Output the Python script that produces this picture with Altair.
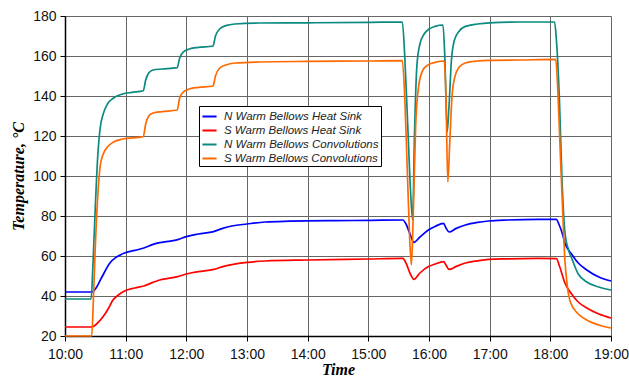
import altair as alt
import pandas as pd

series_names = ["N Warm Bellows Heat Sink", "S Warm Bellows Heat Sink",
                "N Warm Bellows Convolutions", "S Warm Bellows Convolutions"]
series_colors = ["#0000FF", "#FF0000", "#0A8A80", "#FF6A00"]

# time in hours (decimal) and temperature in degC
n_sink_t = [10.0, 10.45, 10.5, 10.6, 10.74, 10.85, 10.98, 11.15, 11.3, 11.45, 11.56, 11.7, 11.86, 12.0,
            12.2, 12.45, 12.6, 12.75, 13.0, 13.3, 13.7, 14.5, 15.0, 15.57, 15.62, 15.7, 15.75, 15.85,
            15.99, 16.1, 16.24, 16.28, 16.33, 16.45, 16.6, 16.8, 16.98, 17.3, 17.8, 18.1, 18.14, 18.2,
            18.24, 18.35, 18.46, 18.6, 18.8, 19.0]
n_sink_v = [42, 42, 43.5, 49, 56.5, 59.5, 61.5, 62.8, 64, 65.8, 66.7, 67.3, 68.2, 69.7,
            71, 72.2, 73.8, 75, 76, 77, 77.4, 77.7, 77.8, 78, 76, 70, 66.8, 69.5,
            73, 74.8, 76.3, 74, 72, 73.8, 75.5, 76.8, 77.5, 78, 78.3, 78.3, 76, 71,
            66.5, 61, 56.5, 53, 49.5, 47.5]

s_sink_t = [10.0, 10.45, 10.52, 10.63, 10.72, 10.79, 10.88, 10.98, 11.15, 11.3, 11.45, 11.56, 11.7, 11.86,
            12.0, 12.2, 12.45, 12.6, 12.75, 13.0, 13.3, 14.0, 15.0, 15.57, 15.62, 15.7, 15.75, 15.85,
            15.99, 16.1, 16.24, 16.28, 16.33, 16.45, 16.6, 16.8, 16.98, 17.3, 17.8, 18.1, 18.15, 18.24,
            18.35, 18.46, 18.6, 18.8, 19.0]
s_sink_v = [24.5, 24.5, 26, 29.7, 34, 38, 40.5, 42.5, 44, 45, 46.8, 48, 48.8, 49.7,
            51, 52.2, 53.3, 54.7, 55.7, 56.8, 57.5, 58, 58.5, 58.8, 56.5, 50.5, 48.3, 51.5,
            54.7, 56, 57.2, 55.5, 53.3, 54.8, 56.5, 57.6, 58.3, 58.6, 58.8, 58.7, 55, 46.5,
            41, 37, 34, 31, 29]

n_conv_t = [10.0, 10.43, 10.46, 10.5, 10.54, 10.58, 10.63, 10.7, 10.8, 10.95, 11.1, 11.29, 11.33, 11.38,
            11.45, 11.6, 11.85, 11.89, 11.95, 12.05, 12.2, 12.44, 12.48, 12.55, 12.65, 12.8, 13.2, 14.0,
            15.0, 15.56, 15.6, 15.65, 15.7, 15.73, 15.76, 15.8, 15.85, 15.92, 16.0, 16.1, 16.23, 16.26,
            16.3, 16.33, 16.37, 16.42, 16.5, 16.6, 16.8, 17.0, 17.5, 18.07, 18.1, 18.15, 18.19, 18.24,
            18.3, 18.35, 18.46, 18.6, 18.8, 19.0]
n_conv_v = [38.5, 38.5, 55, 85, 110, 124, 131, 136, 139, 141, 141.8, 142.6, 148, 151.5,
            153, 153.5, 154.2, 159, 162, 163.5, 164.3, 165, 170, 173.5, 175.2, 176, 176.5, 176.6,
            176.8, 177, 160, 125, 90, 78, 120, 155, 166, 171, 173.5, 174.8, 175.5, 160,
            122, 135, 158, 168, 172.5, 174.8, 176, 176.6, 177, 177, 168, 138, 100, 72,
            63, 59, 51, 47, 44.5, 43]

s_conv_t = [10.0, 10.44, 10.47, 10.5, 10.54, 10.58, 10.63, 10.7, 10.8, 10.95, 11.29, 11.33, 11.38, 11.45,
            11.6, 11.85, 11.89, 11.95, 12.05, 12.2, 12.44, 12.48, 12.55, 12.65, 12.8, 13.2, 14.0, 15.0,
            15.56, 15.6, 15.64, 15.68, 15.71, 15.74, 15.78, 15.83, 15.9, 16.0, 16.1, 16.25, 16.28, 16.31,
            16.34, 16.38, 16.43, 16.5, 16.6, 16.8, 17.0, 17.5, 18.09, 18.12, 18.16, 18.2, 18.24, 18.28,
            18.33, 18.46, 18.6, 18.8, 19.0]
s_conv_v = [20, 20, 40, 65, 90, 105, 111, 114.5, 117, 118.5, 119.7, 126, 130, 131.5,
            132.2, 133, 139, 142, 143.5, 144.3, 145, 150, 154, 155.5, 156.5, 157, 157.3, 157.5,
            157.7, 140, 105, 70, 55.5, 80, 125, 145, 153, 155.8, 156.8, 157.5, 140, 97,
            115, 140, 150, 154.5, 156.5, 157.5, 157.8, 158, 158.3, 145, 115, 85, 58, 45,
            37, 31, 28, 25.5, 24]

x_ticks = [10, 11, 12, 13, 14, 15, 16, 17, 18, 19]
y_ticks = [20, 40, 60, 80, 100, 120, 140, 160, 180]

rows = []
for i, (ts, vs) in enumerate([(n_sink_t, n_sink_v), (s_sink_t, s_sink_v),
                              (n_conv_t, n_conv_v), (s_conv_t, s_conv_v)]):
    for t, v in zip(ts, vs):
        rows.append({"series": series_names[i], "order": i, "t": t, "temp": v})
df = pd.DataFrame(rows)

chart = alt.Chart(df).mark_line(strokeWidth=1.7, interpolate="monotone").encode(
    x=alt.X("t:Q", scale=alt.Scale(domain=[10, 19], nice=False),
            axis=alt.Axis(values=x_ticks, title="Time", labelAlign="center",
                          labelExpr="floor(datum.value) + ':00'")),
    y=alt.Y("temp:Q", scale=alt.Scale(domain=[20, 180], nice=False),
            axis=alt.Axis(values=y_ticks, title="Temperature, °C")),
    color=alt.Color("series:N", scale=alt.Scale(domain=series_names, range=series_colors),
                    legend=alt.Legend(title=None, orient="none", legendX=134, legendY=90,
                                      symbolType="stroke", symbolSize=200, symbolStrokeWidth=2,
                                      labelFont="Liberation Sans", labelFontSize=11.5,
                                      labelFontStyle="italic", labelColor="#222",
                                      fillColor="white", strokeColor="black", padding=2,
                                      rowPadding=0, labelOffset=6, labelLimit=300)),
    order=alt.Order("order:Q"),
    detail="series:N",
).properties(
    width=546, height=320,
    autosize=alt.AutoSizeParams(type="none"),
    padding={"left": 65, "top": 16, "right": 18, "bottom": 41},
).configure_view(stroke=None).configure_axis(
    gridColor="#666", gridWidth=1, domainColor="black", domainWidth=1.5,
    tickColor="black", tickSize=5, labelFont="Liberation Sans", labelFontSize=14,
    labelColor="#111", titleFont="Liberation Serif", titleFontSize=16,
    titleFontStyle="italic", titleFontWeight="bold", titleColor="black",
).configure_axisY(titlePadding=6, labelPadding=4).configure_axisX(titlePadding=0, labelPadding=6)

chart.save("out.html", embed_options={"renderer": "svg", "actions": False})
